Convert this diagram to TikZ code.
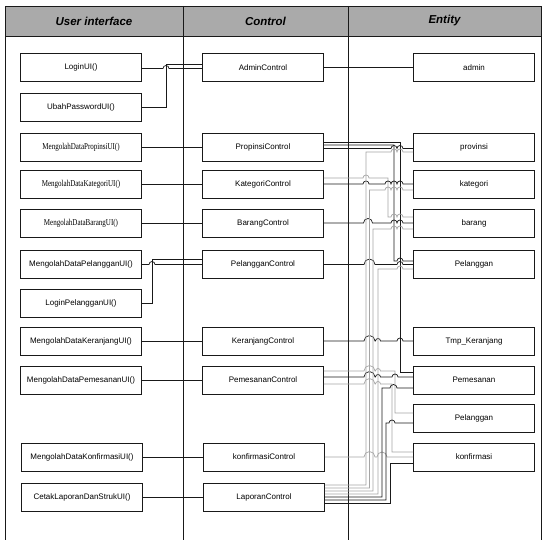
\documentclass[tikz,border=0pt]{standalone}
\usepackage{fontspec}
\setmainfont{Liberation Sans}
\newfontfamily\narrowserif{Liberation Serif}
\usetikzlibrary{calc}
\definecolor{hdr}{RGB}{170,170,170}
\definecolor{ink}{RGB}{25,25,25}
\definecolor{lite}{RGB}{165,165,165}
\newcommand\jp[3]{-- (#1-#3,#2) arc[start angle=180,end angle=0,radius=#3pt]}
\newcommand\nserif[1]{\scalebox{0.78}[1]{\fontsize{9}{10}\selectfont\narrowserif #1}}
\tikzset{
  box/.style={draw=ink, line width=0.8pt, fill=white, minimum width=121pt,
    minimum height=28pt, inner sep=0pt, font=\fontsize{8}{9}\selectfont},
  colline/.style={draw=ink, line width=0.9pt},
  hdrtext/.style={font=\fontsize{11.5}{13}\selectfont\bfseries\itshape},
  dk/.style={draw=ink, line width=0.7pt},
  lt/.style={draw=lite, line width=0.7pt},
}
\begin{document}
\begin{tikzpicture}[x=1pt,y=-1pt]
\useasboundingbox (0,0) rectangle (543,540);
% header and columns
\fill[hdr] (5,6) rectangle (541,36);
\draw[colline] (5,540) -- (5,6) -- (541,6) -- (541,540);
\draw[colline] (5,36) -- (541,36);
\draw[colline] (183,6) -- (183,540);
\draw[colline] (348,6) -- (348,540);
\node[hdrtext] (h1) at (94,21) {User interface};
\node[hdrtext] (h2) at (265.5,21) {Control};
\node[hdrtext] (h3) at (444.5,21) {Entity};

% user interface boxes
\node[box] (lgn)   at (81,67.5)  {LoginUI()};
\node[box] (ubah)  at (81,107.5) {UbahPasswordUI()};
\node[box] (mprop) at (81,147)   {\nserif{MengolahDataPropinsiUI()}};
\node[box] (mkat)  at (81,184.5) {\nserif{MengolahDataKategoriUI()}};
\node[box] (mbar)  at (81,223)   {\nserif{MengolahDataBarangUI()}};
\node[box] (mpel)  at (81,264)   {MengolahDataPelangganUI()};
\node[box] (lpel)  at (81,303)   {LoginPelangganUI()};
\node[box] (mker)  at (81,341)   {MengolahDataKeranjangUI()};
\node[box] (mpem)  at (81,380)   {MengolahDataPemesananUI()};
\node[box] (mkon)  at (82,457)   {MengolahDataKonfirmasiUI()};
\node[box] (cet)   at (82,497)   {CetakLaporanDanStrukUI()};

% control boxes
\node[box] (adc) at (263,67.5) {AdminControl};
\node[box] (pc)  at (263,147)  {PropinsiControl};
\node[box] (kc)  at (263,184.5){KategoriControl};
\node[box] (bc)  at (263,223)  {BarangControl};
\node[box] (plc) at (263,264)  {PelangganControl};
\node[box] (krc) at (263,341)  {KeranjangControl};
\node[box] (pmc) at (263,380)  {PemesananControl};
\node[box] (kfc) at (264,457)  {konfirmasiControl};
\node[box] (lc)  at (264,497)  {LaporanControl};

% entity boxes
\node[box] (ad)  at (474,67.5) {admin};
\node[box] (pe)  at (474,147)  {provinsi};
\node[box] (ke)  at (474,184.5){kategori};
\node[box] (be)  at (474,223)  {barang};
\node[box] (ple) at (474,264)  {Pelanggan};
\node[box] (tk)  at (474,341)  {Tmp\_Keranjang};
\node[box] (pme) at (474,380)  {Pemesanan};
\node[box] (pg2) at (474,418)  {Pelanggan};
\node[box] (kfe) at (474,457)  {konfirmasi};

% UI -> control
\draw[dk] (lgn.east |- 0,68.5) \jp{166}{68.5}{3} -- (adc.west |- 0,68.5);
\draw[dk] (ubah.east) -- (166,107.5) -- (166,64.5) -- (adc.west |- 0,64.5);
\draw[dk] (mprop.east) -- (pc.west);
\draw[dk] (mkat.east) -- (kc.west);
\draw[dk] (mbar.east) -- (bc.west);
\draw[dk] (mpel.east |- 0,264.5) \jp{152}{264.5}{3} -- (plc.west |- 0,264.5);
\draw[dk] (lpel.east) -- (152,303) -- (152,259) -- (plc.west |- 0,259);
\draw[dk] (mker.east) -- (krc.west);
\draw[dk] (mpem.east) -- (pmc.west);
\draw[dk] (mkon.east) -- (kfc.west);
\draw[dk] (cet.east) -- (lc.west);

% control -> entity
\draw[dk] (adc.east) -- (ad.west);
% propinsi
\draw[dk] (pc.east |- 0,142) -- (400,142) -- (400,372) -- (pme.west |- 0,372);
\draw[dk] (pc.east |- 0,145) -- (394,145) -- (394,261) \jp{400}{261}{3} -- (ple.west |- 0,261);
\draw[dk] (pc.east |- 0,148.5) \jp{394}{148.5}{3} \jp{400}{148.5}{3} -- (pe.west |- 0,148.5);
% kategori
\draw[lt] (kc.east |- 0,178) \jp{366}{178}{3} -- (388,178) -- (388,217) \jp{394}{217}{3} \jp{400}{217}{3} -- (be.west |- 0,217);
\draw[dk] (kc.east |- 0,184) \jp{366}{184}{3} \jp{388}{184}{3} \jp{394}{184}{3} \jp{400}{184}{3} -- (ke.west |- 0,184);
% barang
\draw[dk] (bc.east) \jp{368}{223}{4.5} \jp{394}{223}{3} \jp{400}{223}{3} -- (be.west);
% pelanggan
\draw[dk] (plc.east |- 0,264.5) \jp{369.5}{264.5}{5.5} \jp{400}{264.5}{3} -- (ple.west |- 0,264.5);
% keranjang
\draw[dk] (krc.east) \jp{369.5}{341}{5.5} \jp{378}{341}{2.5} \jp{400}{341}{3} -- (tk.west);
% pemesanan
\draw[lt] (pmc.east |- 0,371) \jp{369.5}{371}{5.5} \jp{378}{371}{2.5} -- (395,371) -- (395,413) -- (pg2.west |- 0,413);
\draw[dk] (pmc.east |- 0,377) \jp{369.5}{377}{5.5} \jp{378}{377}{2.5} \jp{395}{377}{3} -- (pme.west |- 0,377);
\draw[lt] (pmc.east |- 0,384) \jp{369.5}{384}{5.5} \jp{378}{384}{2.5} -- (392,384) -- (392,452) -- (kfe.west |- 0,452);
% konfirmasi
\draw[lt] (kfc.east) \jp{369.5}{457}{5.5} \jp{382}{457}{5} -- (kfe.west);
% laporan bundle
\draw[lt] (lc.east |- 0,485) -- (366,485) -- (366,152) \jp{394}{152}{3} \jp{400}{152}{3} -- (pe.west |- 0,152);
\draw[lt] (lc.east |- 0,488) -- (369.5,488) -- (369.5,190) \jp{388}{190}{3} \jp{394}{190}{3} \jp{400}{190}{3} -- (ke.west |- 0,190);
\draw[lt] (lc.east |- 0,491) -- (373,491) -- (373,229) \jp{394}{229}{3} \jp{400}{229}{3} -- (be.west |- 0,229);
\draw[lt] (lc.east |- 0,494) -- (378,494) -- (378,269) \jp{400}{269}{3} -- (ple.west |- 0,269);
\draw[dk] (lc.east |- 0,497) -- (382,497) -- (382,388) \jp{393.5}{388}{3.5} -- (pme.west |- 0,388);
\draw[dk] (lc.east |- 0,500) -- (386,500) -- (386,423) \jp{392}{423}{3} -- (pg2.west |- 0,423);
\draw[dk] (lc.east |- 0,503) -- (390,503) -- (390,463) -- (kfe.west |- 0,463);
\end{tikzpicture}
\end{document}
